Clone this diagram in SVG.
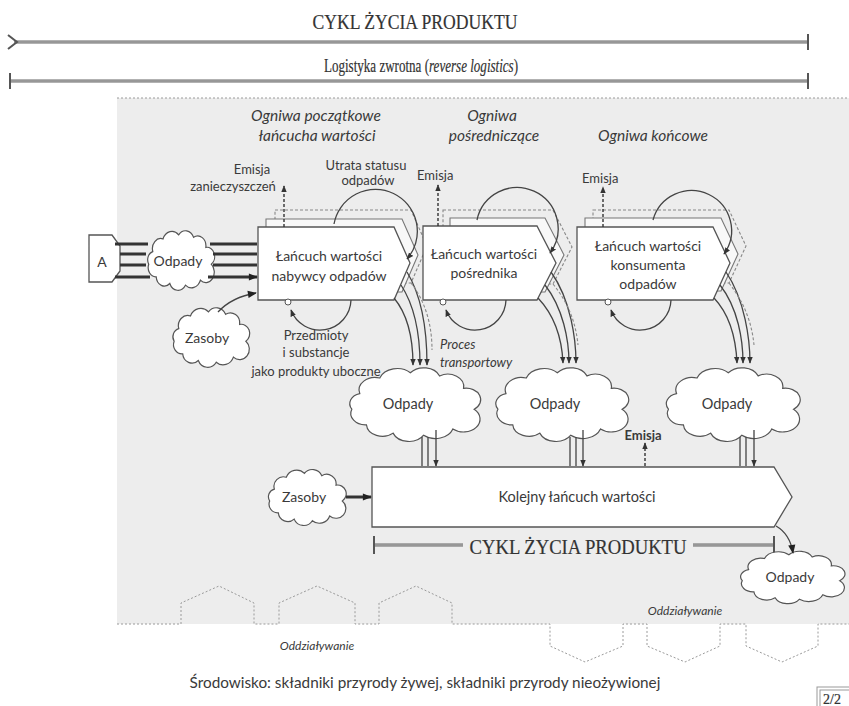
<svg xmlns="http://www.w3.org/2000/svg" width="849" height="706" viewBox="0 0 849 706">
<style>
.lbl{font-family:Lato,"Liberation Sans",sans-serif;fill:#3a3a3a;}
.mid{text-anchor:middle}
.it{font-style:italic}
.ser{font-family:"Liberation Serif",serif;fill:#333;stroke:#333;stroke-width:0.2}
.blk{fill:#fff;stroke:#555;stroke-width:1.3}
.back{fill:#f8f8f8;stroke:#777;stroke-width:1.1}
.dash{fill:none;stroke:#888;stroke-width:1.1;stroke-dasharray:3 2}
.cloud{fill:#fff;stroke:#555;stroke-width:1.2}
.ln{fill:none;stroke:#444;stroke-width:1.3}
.thick{fill:none;stroke:#333;stroke-width:3}
.em{fill:none;stroke:#333;stroke-width:1.4;stroke-dasharray:3 2}
.dot{fill:none;stroke:#9a9a9a;stroke-width:1;stroke-dasharray:2 2}
.rule{fill:none;stroke:#666;stroke-width:3.2}
.rule2{fill:none;stroke:#c8c8c8;stroke-width:1}
</style>
<defs>
  <path id="cl" vector-effect="non-scaling-stroke" d="M-40,-10 A12,12 0 0 1 -25,-25 A14,14 0 0 1 -2,-30 A13,13 0 0 1 20,-27 A12,12 0 0 1 38,-15 A11,11 0 0 1 46,5 A12,12 0 0 1 30,24 A14,14 0 0 1 8,30 A13,13 0 0 1 -15,28 A12,12 0 0 1 -35,20 A11,11 0 0 1 -46,5 A10,10 0 0 1 -40,-10 Z"/>
  <marker id="ah" viewBox="0 0 10 10" refX="9" refY="5" markerWidth="7" markerHeight="7" markerUnits="userSpaceOnUse" orient="auto">
    <path d="M0,1 L10,5 L0,9 z" fill="#333"/>
  </marker>
  <marker id="ahb" viewBox="0 0 10 10" refX="9" refY="5" markerWidth="10" markerHeight="9" markerUnits="userSpaceOnUse" orient="auto">
    <path d="M0,1 L10,5 L0,9 z" fill="#222"/>
  </marker>
</defs>

<!-- page background and the shaded value-chain field -->
<rect x="0" y="0" width="849" height="706" fill="#fff"/>
<rect x="117" y="98" width="732" height="526" fill="#ededed"/>
<path class="dot" d="M117,98 H849"/>
<!-- environment boundary with impact outlines -->
<path class="dot" d="M117,624 H181 V603 L219,586 L254,603 V624 H279 V603 L317,586 L355,603 V624 H379 V603 L416,586 L452,603 V624 H550 V646 L585,662 L623,646 V624 H647 V646 L685,662 L720,646 V624 H746 V646 L782,662 L818,646 V624 H849"/>

<!-- top timelines -->
<g id="timeline-top">
  <text class="ser mid" x="415" y="29" font-size="20" textLength="205" lengthAdjust="spacingAndGlyphs">CYKL ŻYCIA PRODUKTU</text>
  <path class="rule" d="M14,42 H808"/>
  <path class="rule2" d="M14,42 H808"/>
  <path fill="none" stroke="#555" stroke-width="2" d="M8,35 L17,42 L8,49 M808,34 V50"/>
  <text class="ser mid" stroke-width="0" transform="translate(421,72) scale(0.67,1)" x="0" y="0" font-size="19.5">Logistyka zwrotna (<tspan font-style="italic">reverse logistics</tspan>)</text>
  <path class="rule" d="M10,81 H808"/>
  <path class="rule2" d="M10,81 H808"/>
  <path fill="none" stroke="#555" stroke-width="2" d="M10,73 V89 M808,73 V89"/>
</g>

<!-- column headings -->
<g id="headings" class="lbl it" font-size="15.5">
  <text class="mid" x="316" y="121">Ogniwa początkowe</text>
  <text class="mid" x="317" y="141">łańcucha wartości</text>
  <text class="mid" x="492" y="121">Ogniwa</text>
  <text class="mid" x="494" y="141">pośredniczące</text>
  <text class="mid" x="653" y="141">Ogniwa końcowe</text>
</g>

<!-- source A -->
<g id="node-a">
  <path class="blk" d="M89,235 H112 L120,246 V271 L112,282 H89 Z"/>
  <text class="lbl mid" x="102" y="267" font-size="14">A</text>
</g>

<!-- value chains -->
<g id="chain-buyer">
  <polygon class="dash" points="275,210 411,210 427,246 411,283 275,283"/>
  <polygon class="back" points="266,219 402,219 418,255 402,292 266,292"/>
  <polygon class="blk" points="258,227 394,227 410,263 394,300 258,300"/>
  <text class="lbl mid" x="329" y="261" font-size="14">Łańcuch wartości</text>
  <text class="lbl mid" x="329" y="281" font-size="14">nabywcy odpadów</text>
  <circle cx="288" cy="302" r="3" fill="#fff" stroke="#555"/>
</g>
<g id="chain-broker">
  <polygon class="dash" points="443,210 553,210 572,247 553,284 443,284"/>
  <polygon class="back" points="450,218 545,218 564,255 545,292 450,292"/>
  <polygon class="blk" points="423,226 537,226 556,263 537,300 423,300"/>
  <text class="lbl mid" x="484" y="259" font-size="14">Łańcuch wartości</text>
  <text class="lbl mid" x="484" y="278" font-size="14">pośrednika</text>
  <circle cx="443" cy="302" r="3" fill="#fff" stroke="#555"/>
</g>
<g id="chain-consumer">
  <polygon class="dash" points="593,210 729,210 746,246 729,283 593,283"/>
  <polygon class="back" points="585,218 721,218 738,254 721,291 585,291"/>
  <polygon class="blk" points="577,227 713,227 730,263 713,300 577,300"/>
  <text class="lbl mid" x="648" y="251" font-size="14">Łańcuch wartości</text>
  <text class="lbl mid" x="648" y="270" font-size="14">konsumenta</text>
  <text class="lbl mid" x="648" y="289" font-size="14">odpadów</text>
  <circle cx="608" cy="302" r="3" fill="#fff" stroke="#555"/>
</g>
<g id="chain-next">
  <polygon class="blk" points="372,467 774,467 792,497 774,527 372,527"/>
  <text class="lbl mid" x="577" y="502" font-size="14.5">Kolejny łańcuch wartości</text>
  <text class="ser mid" x="578" y="554" font-size="20" textLength="217" lengthAdjust="spacingAndGlyphs">CYKL ŻYCIA PRODUKTU</text>
  <path class="rule" d="M374,545 H463 M693,545 H774"/>
  <path class="rule2" d="M374,545 H463 M693,545 H774"/>
  <path fill="none" stroke="#555" stroke-width="2" d="M374,536 V554 M774,536 V554"/>
</g>

<!-- clouds -->
<g id="cloud-waste-in">
  <use href="#cl" class="cloud" transform="translate(180,260) scale(0.68,0.84)"/>
  <text class="lbl mid" x="178" y="266" font-size="14">Odpady</text>
</g>
<g id="cloud-resources-1">
  <use href="#cl" class="cloud" transform="translate(210,337) scale(0.78,0.84)"/>
  <text class="lbl mid" x="207" y="343" font-size="14">Zasoby</text>
</g>
<g id="cloud-waste-1">
  <use href="#cl" class="cloud" transform="translate(413,404) scale(1.33,1.04)"/>
  <text class="lbl mid" x="408" y="409" font-size="14.5">Odpady</text>
</g>
<g id="cloud-waste-2">
  <use href="#cl" class="cloud" transform="translate(560,404) scale(1.35,1.04)"/>
  <text class="lbl mid" x="555" y="409" font-size="14.5">Odpady</text>
</g>
<g id="cloud-waste-3">
  <use href="#cl" class="cloud" transform="translate(731,404) scale(1.36,1.04)"/>
  <text class="lbl mid" x="727" y="409" font-size="14.5">Odpady</text>
</g>
<g id="cloud-resources-2">
  <use href="#cl" class="cloud" transform="translate(306,497) scale(0.79,0.79)"/>
  <text class="lbl mid" x="304" y="502" font-size="14">Zasoby</text>
</g>
<g id="cloud-waste-out">
  <use href="#cl" class="cloud" transform="translate(791,577) scale(1.06,0.74)"/>
  <text class="lbl mid" x="790" y="582" font-size="14">Odpady</text>
</g>

<!-- labels -->
<g id="labels" class="lbl" font-size="13">
  <text class="mid" x="252" y="174">Emisja</text>
  <text class="mid" x="233" y="191">zanieczyszczeń</text>
  <text class="mid" x="366" y="170">Utrata statusu</text>
  <text class="mid" x="368" y="185">odpadów</text>
  <text x="417" y="180">Emisja</text>
  <text x="582" y="183">Emisja</text>
  <text class="mid" x="316" y="340">Przedmioty</text>
  <text class="mid" x="316" y="357">i substancje</text>
  <text class="mid" x="316" y="376">jako produkty  uboczne</text>
  <text class="it" x="440" y="349">Proces</text>
  <text class="it" x="440" y="367">transportowy</text>
  <text class="mid" x="643" y="440" font-weight="bold">Emisja</text>
  <text class="it mid" x="317" y="650" font-size="12">Oddziaływanie</text>
  <text class="it mid" x="685" y="615" font-size="12">Oddziaływanie</text>
  <text class="mid" x="425" y="688" font-size="15.3">Środowisko:  składniki przyrody żywej, składniki przyrody nieożywionej</text>
</g>

<!-- connectors -->
<g id="connectors">
  <!-- A to the buyer chain through the waste cloud -->
  <path class="thick" d="M115,244 H148 M120,254 H146 M120,265 H146 M115,277 H150"/>
  <path class="thick" marker-end="url(#ahb)" d="M210,244 H257 M213,254 H257 M213,265 H257 M208,277 H257"/>
  <path class="ln" stroke-width="2" marker-end="url(#ahb)" d="M218,312 Q232,297 256,293"/>

  <!-- emission arrows -->
  <path class="em" marker-end="url(#ah)" d="M284,227 V186"/>
  <path class="em" marker-end="url(#ah)" d="M438,226 V185"/>
  <path class="em" marker-end="url(#ah)" d="M603,227 V187"/>
  <path class="em" marker-end="url(#ah)" d="M645,466 V443"/>

  <!-- status-loss loops over each chain -->
  <path class="ln" stroke-width="1.6" marker-end="url(#ah)" d="M334,224 A42,42 0 1 1 407,259"/>
  <path class="ln" stroke-width="1.6" marker-end="url(#ah)" d="M477,220 A41,41 0 1 1 550,253"/>
  <path class="ln" stroke-width="1.6" marker-end="url(#ah)" d="M653,220 A40,40 0 1 1 724,254"/>

  <!-- by-product loops under each chain -->
  <path class="ln" stroke-width="1.6" marker-end="url(#ah)" d="M351,300 A31,31 0 0 1 291,310"/>
  <path class="ln" stroke-width="1.6" marker-end="url(#ah)" d="M506,300 A31,31 0 0 1 446,310"/>
  <path class="ln" stroke-width="1.6" marker-end="url(#ah)" d="M671,300 A31,31 0 0 1 611,310"/>

  <!-- chains to waste clouds -->
  <path class="ln" marker-end="url(#ah)" d="M394,298 C409,316 413,340 413,365"/>
  <path class="ln" marker-end="url(#ah)" d="M401,285 C416,308 420,340 420,365"/>
  <path class="ln" marker-end="url(#ah)" d="M407,272 C424,300 427,340 427,365"/>
  <path class="dash" d="M411,283 C428,305 432,330 432,350"/>

  <path class="ln" marker-end="url(#ah)" d="M538,298 C555,316 562,340 563,363"/>
  <path class="ln" marker-end="url(#ah)" d="M545,285 C563,308 569,340 569,363"/>
  <path class="ln" marker-end="url(#ah)" d="M551,272 C571,300 576,340 576,363"/>
  <path class="dash" d="M553,284 C570,305 576,325 578,345"/>

  <path class="ln" marker-end="url(#ah)" d="M714,298 C731,316 736,340 737,363"/>
  <path class="ln" marker-end="url(#ah)" d="M720,285 C738,308 743,340 743,363"/>
  <path class="ln" marker-end="url(#ah)" d="M726,272 C745,300 750,340 750,363"/>
  <path class="dash" d="M729,283 C746,305 752,325 754,345"/>

  <!-- waste clouds to the next chain -->
  <path class="ln" marker-end="url(#ah)" d="M422,437 V466 M428,437 V466 M436,430 V466"/>
  <path class="ln" marker-end="url(#ah)" d="M570,437 V466 M576,437 V466 M583,430 V466"/>
  <path class="ln" marker-end="url(#ah)" d="M740,437 V466 M746,437 V466 M754,430 V466"/>

  <!-- resources in, waste out of the next chain -->
  <path class="thick" stroke-width="2.2" marker-end="url(#ahb)" d="M346,497 H371"/>
  <path class="ln" stroke-width="2" marker-end="url(#ahb)" d="M776,526 Q790,534 793,553"/>
</g>

<!-- page marker -->
<g id="page-no">
  <rect x="817" y="687" width="34" height="22" fill="#fff" stroke="#999"/>
  <rect x="820" y="690" width="30" height="18" fill="#fff" stroke="#999"/>
  <text class="ser" x="823" y="704" font-size="14" stroke-width="0">2/2</text>
</g>
</svg>
